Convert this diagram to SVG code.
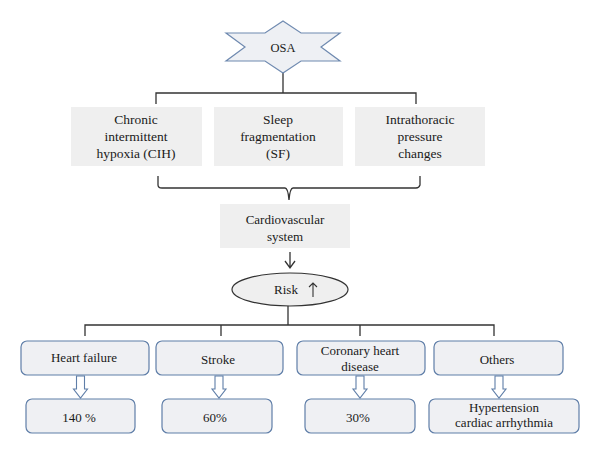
<svg xmlns="http://www.w3.org/2000/svg" width="600" height="454" viewBox="0 0 600 454">
<defs>
<style>
.t{font-family:"Liberation Serif","Times New Roman",serif;fill:#1a1a1a;text-anchor:middle}
.s13{font-size:13px}
.s135{font-size:13.5px}
.gbox{fill:#efefef;stroke:none}
.rbox{fill:#eff0f3;stroke:#5f7ea8;stroke-width:1.2}
.ln{fill:none;stroke:#333;stroke-width:1.3}
.harrow{fill:#fff;stroke:#5f7ea8;stroke-width:1.1}
</style>
</defs>
<rect width="600" height="454" fill="#fff"/>
<g id="connectors">
<path class="ln" d="M283 73 V93 M156 104 V93 H416 V104"/>
<path class="ln" d="M158 176 V185 Q158 188 162 188 H285 Q288 188 289 200 Q290 188 293 188 H416 Q419 188 420 185 V176"/>
<path class="ln" d="M290 252 V268 M285 261 L290 268 L295 261"/>
<path class="ln" d="M288 306 V325 M85 336 V325 H494 V336 M221 325 V336 M360 325 V336"/>
<path class="harrow" d="M76.5 376 V389 H73.5 L80.5 398 L87.5 389 H84.5 V376 Z"/>
<path class="harrow" d="M215 376 V389 H212 L219 398 L226 389 H223 V376 Z"/>
<path class="harrow" d="M356 376 V389 H353 L360 398 L367 389 H364 V376 Z"/>
<path class="harrow" d="M495 376 V389 H492 L499 398 L506 389 H503 V376 Z"/>
</g>
<g id="osa">
<polygon points="283,21 301,33 340,33 321,47 340,61 301,61 283,73 265,61 226,61 245,47 226,33 265,33" fill="#eef0f4" stroke="#6f8ab0" stroke-width="1.2"/>
<text class="t" x="283" y="52" style="font-size:12.5px">OSA</text>
</g>
<g id="cih">
<rect class="gbox" x="71" y="107" width="131" height="59"/>
<text class="t s135" x="136" y="124">Chronic</text>
<text class="t s135" x="136" y="141">intermittent</text>
<text class="t s135" x="136" y="158">hypoxia (CIH)</text>
</g>
<g id="sf">
<rect class="gbox" x="214" y="107" width="129" height="59"/>
<text class="t s135" x="278" y="124">Sleep</text>
<text class="t s135" x="278" y="141">fragmentation</text>
<text class="t s135" x="278" y="158">(SF)</text>
</g>
<g id="itp">
<rect class="gbox" x="355" y="107" width="130" height="59"/>
<text class="t s135" x="420" y="124">Intrathoracic</text>
<text class="t s135" x="420" y="141">pressure</text>
<text class="t s135" x="420" y="158">changes</text>
</g>
<g id="cardio">
<rect class="gbox" x="220" y="204" width="130" height="44"/>
<text class="t s13" x="285" y="224">Cardiovascular</text>
<text class="t s13" x="285" y="241">system</text>
</g>
<g id="risk">
<ellipse cx="290" cy="289.5" rx="58" ry="16.5" fill="#efefef" stroke="#333" stroke-width="1.2"/>
<text class="t s13" x="286" y="294">Risk</text>
<path class="ln" d="M313 297 V283 M309 287 L313 283 L317 287" style="stroke-width:1.1"/>
</g>
<g id="hf">
<rect class="rbox" x="21" y="341" width="128" height="34" rx="6"/>
<text class="t s13" x="84" y="362">Heart failure</text>
</g>
<g id="stroke">
<rect class="rbox" x="156" y="341" width="127" height="34" rx="6"/>
<text class="t s13" x="218" y="364">Stroke</text>
</g>
<g id="chd">
<rect class="rbox" x="297" y="341" width="128" height="34" rx="6"/>
<text class="t s13" x="360" y="355">Coronary heart</text>
<text class="t s13" x="360" y="371">disease</text>
</g>
<g id="others">
<rect class="rbox" x="434" y="341" width="129" height="34" rx="6"/>
<text class="t s13" x="497" y="364">Others</text>
</g>
<g id="p140">
<rect class="rbox" x="26" y="399" width="109" height="34" rx="6"/>
<text class="t s13" x="79" y="422">140 %</text>
</g>
<g id="p60">
<rect class="rbox" x="162" y="399" width="110" height="34" rx="6"/>
<text class="t s13" x="215" y="422">60%</text>
</g>
<g id="p30">
<rect class="rbox" x="305" y="399" width="110" height="34" rx="6"/>
<text class="t s13" x="358" y="422">30%</text>
</g>
<g id="htn">
<rect class="rbox" x="429" y="399" width="150" height="34" rx="6"/>
<text class="t s13" x="504" y="412">Hypertension</text>
<text class="t s13" x="504" y="427">cardiac arrhythmia</text>
</g>
</svg>
